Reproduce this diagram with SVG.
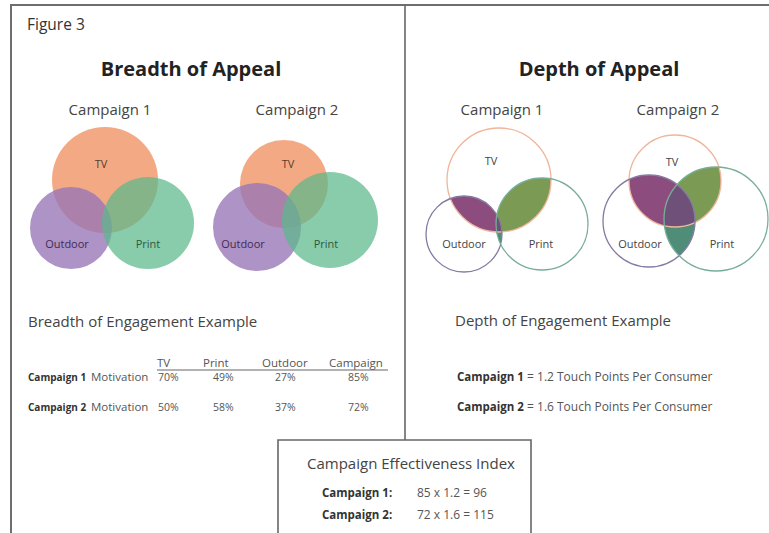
<svg xmlns="http://www.w3.org/2000/svg" width="769" height="533" viewBox="0 0 769 533">
  <style>
    text { font-family: "Open Sans", "Liberation Sans", sans-serif; fill: #3a3a3a; }
    .title { font-size: 20px; font-weight: bold; fill: #222; text-anchor: middle; }
    .sub { font-size: 15px; fill: #444; text-anchor: middle; }
    .head { font-size: 15px; fill: #444; }
    .lbl { font-size: 11px; text-anchor: middle; }
    .tb { font-size: 11.5px; fill: #555; }
    .num { font-size: 10.5px; fill: #555; }
    .tbb { font-size: 10px; font-weight: bold; fill: #333; }
    .sum { font-size: 12px; fill: #555; }
    .sumb { font-size: 11.5px; font-weight: bold; fill: #333; }
    .tv { fill: #f3aa84; }
    .out { fill: #9675b6; fill-opacity: 0.78; }
    .pr { fill: #5cb98a; fill-opacity: 0.72; }
    .ring { fill: none; stroke-width: 1.3; }
    .ring-tv { stroke: #f0b59c; }
    .ring-out { stroke: #857aa2; }
    .ring-pr { stroke: #78ad98; }
    .x-to { fill: #8d4c7e; }
    .x-tp { fill: #7b9b55; }
    .x-op { fill: #4f8d78; }
    .x-all { fill: #6e5078; }
    .frame { fill: none; stroke: #6e6e6e; stroke-width: 2; }
    .line { fill: none; stroke: #666; stroke-width: 1.6; }
  </style>
  <defs>
    <!-- circle outlines reused as clip regions for the depth diagrams -->
    <clipPath id="d1-tv"><circle cx="499" cy="180" r="52"/></clipPath>
    <clipPath id="d1-out"><circle cx="464" cy="234" r="38"/></clipPath>
    <clipPath id="d1-pr"><circle cx="542" cy="224" r="46"/></clipPath>
    <clipPath id="d2-tv"><circle cx="675" cy="181" r="46"/></clipPath>
    <clipPath id="d2-out"><circle cx="649" cy="221" r="46"/></clipPath>
    <clipPath id="d2-pr"><circle cx="716" cy="219" r="52"/></clipPath>
  </defs>

  <rect width="769" height="533" fill="#fff"/>

  <!-- page frame -->
  <path class="frame" d="M11 533 V5 H769"/>

  <g id="connectors">
    <line class="line" x1="405" y1="5" x2="405" y2="440"/>
  </g>

  <text x="27" y="30" style="font-size:15.5px;fill:#333">Figure 3</text>

  <!-- left panel: breadth -->
  <g id="breadth-title">
    <text class="title" x="191" y="76">Breadth of Appeal</text>
  </g>

  <g id="breadth-campaign1">
    <text class="sub" x="110" y="115">Campaign 1</text>
    <circle class="tv" cx="105" cy="180" r="53"/>
    <circle class="out" cx="71" cy="228" r="41"/>
    <circle class="pr" cx="148" cy="223" r="46"/>
    <text class="lbl" x="101" y="168" style="fill:#5a3a2a">TV</text>
    <text class="lbl" x="67" y="248" style="fill:#3f2b58">Outdoor</text>
    <text class="lbl" x="148" y="248" style="fill:#2c5a3e">Print</text>
  </g>

  <g id="breadth-campaign2">
    <text class="sub" x="297" y="115">Campaign 2</text>
    <circle class="tv" cx="284" cy="184" r="44"/>
    <circle class="out" cx="257" cy="227" r="44"/>
    <circle class="pr" cx="330" cy="220" r="48"/>
    <text class="lbl" x="288" y="168" style="fill:#5a3a2a">TV</text>
    <text class="lbl" x="243" y="248" style="fill:#3f2b58">Outdoor</text>
    <text class="lbl" x="326" y="248" style="fill:#2c5a3e">Print</text>
  </g>

  <g id="breadth-table">
    <text class="head" x="28" y="327">Breadth of Engagement Example</text>
    <text class="tb" x="157" y="367">TV</text>
    <text class="tb" x="203" y="367">Print</text>
    <text class="tb" x="262" y="367">Outdoor</text>
    <text class="tb" x="329" y="367">Campaign</text>
    <line x1="157" y1="370" x2="388" y2="370" stroke="#666" stroke-width="1.2"/>
    <text class="tbb" x="28" y="381">Campaign 1</text>
    <text class="tb" x="91" y="381">Motivation</text>
    <text class="num" x="158" y="381">70%</text>
    <text class="num" x="213" y="381">49%</text>
    <text class="num" x="275" y="381">27%</text>
    <text class="num" x="348" y="381">85%</text>
    <text class="tbb" x="28" y="411">Campaign 2</text>
    <text class="tb" x="91" y="411">Motivation</text>
    <text class="num" x="158" y="411">50%</text>
    <text class="num" x="213" y="411">58%</text>
    <text class="num" x="275" y="411">37%</text>
    <text class="num" x="348" y="411">72%</text>
  </g>

  <!-- right panel: depth -->
  <g id="depth-title">
    <text class="title" x="599" y="76">Depth of Appeal</text>
  </g>

  <g id="depth-campaign1">
    <text class="sub" x="502" y="115">Campaign 1</text>
    <circle class="x-to" cx="464" cy="234" r="38" clip-path="url(#d1-tv)"/>
    <circle class="x-tp" cx="542" cy="224" r="46" clip-path="url(#d1-tv)"/>
    <circle class="x-op" cx="542" cy="224" r="46" clip-path="url(#d1-out)"/>
    <g clip-path="url(#d1-tv)">
      <circle class="x-all" cx="542" cy="224" r="46" clip-path="url(#d1-out)"/>
    </g>
    <circle class="ring ring-tv" cx="499" cy="180" r="52"/>
    <circle class="ring ring-out" cx="464" cy="234" r="38"/>
    <circle class="ring ring-pr" cx="542" cy="224" r="46"/>
    <text class="lbl" x="491" y="165" style="fill:#444">TV</text>
    <text class="lbl" x="464" y="248" style="fill:#444">Outdoor</text>
    <text class="lbl" x="541" y="248" style="fill:#444">Print</text>
  </g>

  <g id="depth-campaign2">
    <text class="sub" x="678" y="115">Campaign 2</text>
    <circle class="x-to" cx="649" cy="221" r="46" clip-path="url(#d2-tv)"/>
    <circle class="x-tp" cx="716" cy="219" r="52" clip-path="url(#d2-tv)"/>
    <circle class="x-op" cx="716" cy="219" r="52" clip-path="url(#d2-out)"/>
    <g clip-path="url(#d2-tv)">
      <circle class="x-all" cx="716" cy="219" r="52" clip-path="url(#d2-out)"/>
    </g>
    <circle class="ring ring-tv" cx="675" cy="181" r="46"/>
    <circle class="ring ring-out" cx="649" cy="221" r="46"/>
    <circle class="ring ring-pr" cx="716" cy="219" r="52"/>
    <text class="lbl" x="672" y="166" style="fill:#444">TV</text>
    <text class="lbl" x="640" y="248" style="fill:#444">Outdoor</text>
    <text class="lbl" x="722" y="248" style="fill:#444">Print</text>
  </g>

  <g id="depth-summary">
    <text class="head" x="455" y="326">Depth of Engagement Example</text>
    <text class="sum" x="457" y="381"><tspan class="sumb">Campaign 1</tspan> = 1.2 Touch Points Per Consumer</text>
    <text class="sum" x="457" y="411"><tspan class="sumb">Campaign 2</tspan> = 1.6 Touch Points Per Consumer</text>
  </g>

  <!-- index box -->
  <g id="effectiveness-index">
    <path class="line" d="M278 533 V440 H531 V533"/>
    <text class="head" x="411" y="469" style="text-anchor:middle">Campaign Effectiveness Index</text>
    <text class="tbb" x="322" y="497" style="font-size:11.5px">Campaign 1:</text>
    <text class="sum" x="417" y="497">85 x 1.2 = 96</text>
    <text class="tbb" x="322" y="519" style="font-size:11.5px">Campaign 2:</text>
    <text class="sum" x="417" y="519">72 x 1.6 = 115</text>
  </g>
</svg>
